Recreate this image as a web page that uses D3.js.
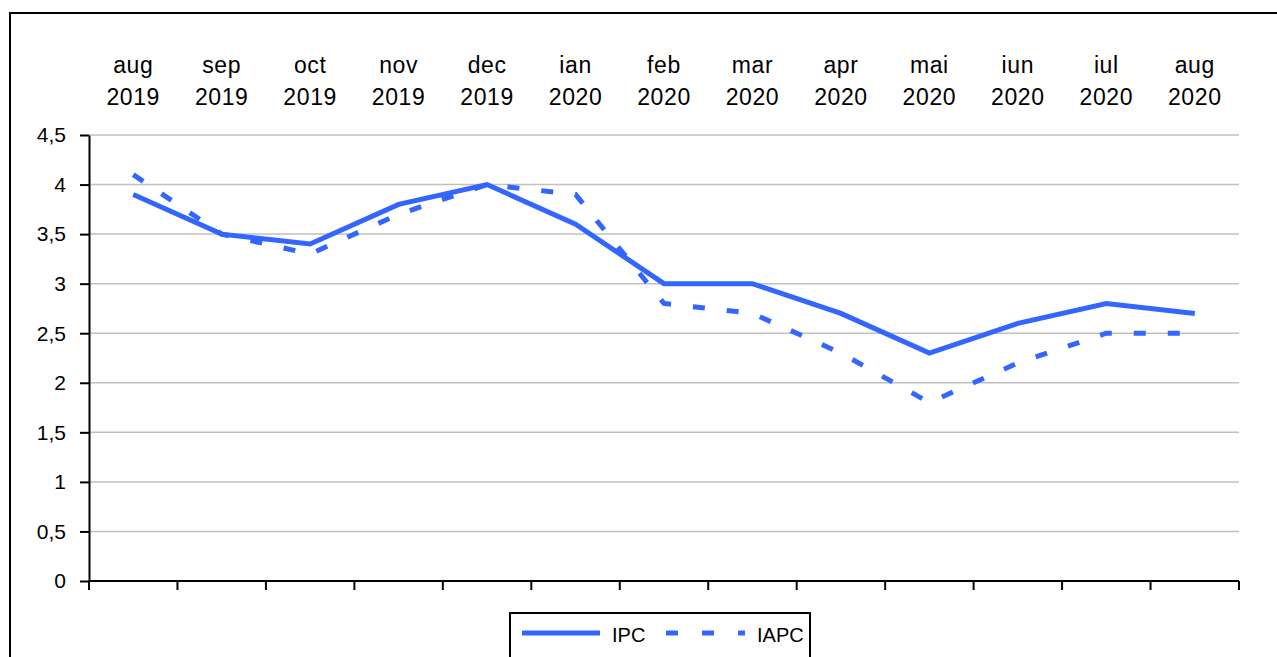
<!DOCTYPE html>
<html><head><meta charset="utf-8">
<script src="https://cdnjs.cloudflare.com/ajax/libs/d3/7.8.5/d3.min.js"></script>
<style>body{margin:0;background:#fff}svg{display:block}text{font-family:"Liberation Sans",Arial,sans-serif;fill:#000}</style>
</head><body>
<svg id="c" width="1277" height="657"></svg>
<script>
const months = ["aug","sep","oct","nov","dec","ian","feb","mar","apr","mai","iun","iul","aug"];
const years = ["2019","2019","2019","2019","2019","2020","2020","2020","2020","2020","2020","2020","2020"];
const ipc = [3.9,3.5,3.4,3.8,4.0,3.6,3.0,3.0,2.7,2.3,2.6,2.8,2.7];
const iapc = [4.1,3.5,3.3,3.7,4.0,3.9,2.8,2.7,2.3,1.8,2.2,2.5,2.5];
const yTicks = [0,0.5,1,1.5,2,2.5,3,3.5,4,4.5];
const seriesNames = ["IPC","IAPC"];

const svg = d3.select("#c");
const color = "#3366ff";
const idx = months.map((m,i)=>i);
const x = d3.scaleBand().domain(idx).range([89,1239]);
const y = d3.scaleLinear().domain([0,4.5]).range([581,135]);

// outer frame
svg.append("rect").attr("x",10).attr("y",13).attr("width",1300).attr("height",700)
  .attr("fill","none").attr("stroke","#000").attr("stroke-width",2);

// gridlines
svg.append("g").selectAll("line").data(yTicks.filter(d=>d>0)).join("line")
  .attr("x1",89).attr("x2",1239).attr("y1",d=>y(d)).attr("y2",d=>y(d))
  .attr("stroke","#c0c0c0").attr("stroke-width",1.5);

// y axis (ticks + domain via d3.axisLeft, labels drawn separately)
const fmt = d => String(d).replace(".",",");
const ya = svg.append("g").attr("transform","translate(89,0)")
  .call(d3.axisLeft(y).tickValues(yTicks).tickFormat("").tickSize(9).tickSizeOuter(0));
ya.select(".domain").attr("stroke","#000").attr("stroke-width",2);
ya.selectAll("line").attr("stroke","#000").attr("stroke-width",2);
svg.append("g").selectAll("text.yl").data(yTicks).join("text").attr("class","yl")
  .attr("x",66).attr("y",d=>y(d)).attr("dy","0.35em").attr("text-anchor","end")
  .style("font-size","21px").text(fmt);

// x axis (ticks at band boundaries)
const xa = svg.append("g").attr("transform","translate(0,581)");
xa.append("line").attr("x1",89).attr("x2",1239).attr("stroke","#000").attr("stroke-width",2);
const bounds = idx.map(i=>x(i)).concat([x(idx[idx.length-1])+x.bandwidth()]);
xa.selectAll("line.t").data(bounds).join("line").attr("class","t")
  .attr("x1",d=>d).attr("x2",d=>d).attr("y1",0).attr("y2",9)
  .attr("stroke","#000").attr("stroke-width",2);

// category labels at top
const lab = svg.append("g");
lab.selectAll("text.m").data(idx).join("text").attr("class","m")
  .attr("x",i=>x(i)+x.bandwidth()/2).attr("y",73).attr("text-anchor","middle")
  .style("font-size","23px").style("letter-spacing","0.6px").text(i=>months[i]);
lab.selectAll("text.yr").data(idx).join("text").attr("class","yr")
  .attr("x",i=>x(i)+x.bandwidth()/2).attr("y",105).attr("text-anchor","middle")
  .style("font-size","23px").style("letter-spacing","0.6px").text(i=>years[i]);

// lines
const line = d3.line().x((d,i)=>x(i)+x.bandwidth()/2).y(d=>y(d));
svg.append("path").datum(ipc).attr("d",line).attr("fill","none")
  .attr("stroke",color).attr("stroke-width",5).attr("stroke-linejoin","miter");
svg.append("path").datum(iapc).attr("d",line).attr("fill","none")
  .attr("stroke",color).attr("stroke-width",5).attr("stroke-dasharray","12,22");

// legend
const lg = svg.append("g");
lg.append("rect").attr("x",510).attr("y",613).attr("width",300).attr("height",80)
  .attr("fill","#fff").attr("stroke","#000").attr("stroke-width",2);
lg.append("line").attr("x1",522).attr("x2",600).attr("y1",633).attr("y2",633)
  .attr("stroke",color).attr("stroke-width",5);
lg.append("text").attr("x",612).attr("y",642).style("font-size","20px").text(seriesNames[0]);
lg.append("line").attr("x1",666).attr("x2",745).attr("y1",633).attr("y2",633)
  .attr("stroke",color).attr("stroke-width",5).attr("stroke-dasharray","12,24");
lg.append("text").attr("x",757).attr("y",642).style("font-size","20px").text(seriesNames[1]);
</script>
</body></html>
